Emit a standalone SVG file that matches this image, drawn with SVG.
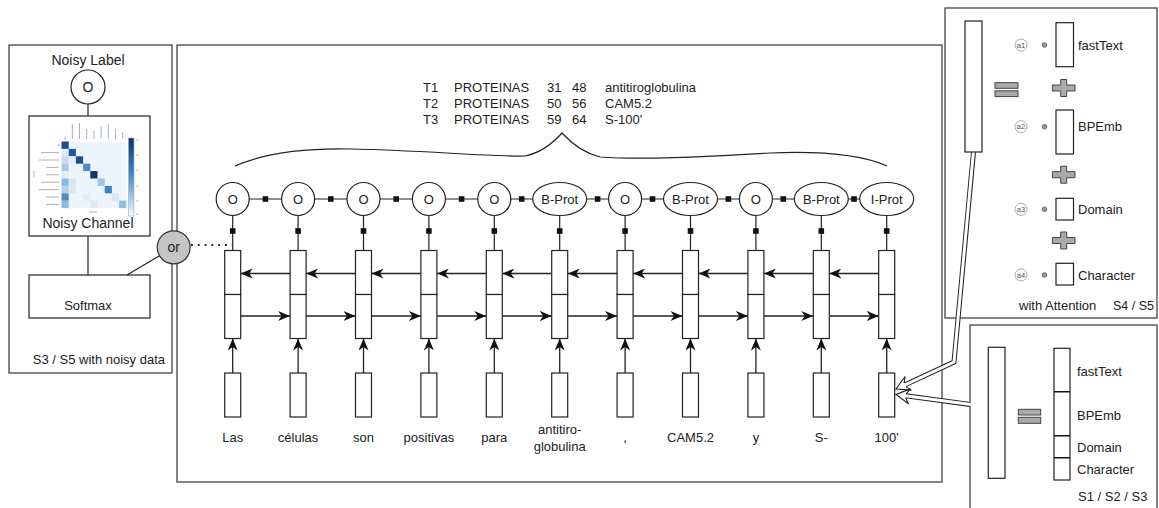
<svg xmlns="http://www.w3.org/2000/svg" width="1159" height="508" viewBox="0 0 1159 508">
<defs>
<style>
text { font-family: "Liberation Sans", Arial, sans-serif; fill: #222; font-size: 13px; }
.mid { text-anchor: middle; }
.big { font-size: 14px; }
.frame { fill: #fff; stroke: #444; stroke-width: 1.3; }
.box { fill: #fff; stroke: #222; stroke-width: 1.2; }
.ln { stroke: #222; stroke-width: 1.2; fill: none; }
.arr { stroke: #222; stroke-width: 1.3; fill: none; marker-end: url(#ah); }
.sq { fill: #111; }
.grey { fill: #aaa; stroke: #444; stroke-width: 1; }
.lab { stroke: #aab2bb; stroke-width: 1; fill: none; }
.acirc { fill: #fff; stroke: #aaa; stroke-width: 1; }
.atext { font-size: 7.5px; fill: #555; text-anchor: middle; }
.dot { fill: #999; stroke: #555; stroke-width: 0.8; }
.dblo { stroke: #222; stroke-width: 5; fill: none; stroke-linejoin: miter; }
.dbli { stroke: #fff; stroke-width: 3; fill: none; stroke-linejoin: miter; }
.head { fill: #fff; stroke: #222; stroke-width: 1.1; stroke-linejoin: miter; }
</style>
<marker id="ah" viewBox="0 0 12 10" refX="12" refY="5" markerWidth="12" markerHeight="10" markerUnits="userSpaceOnUse" orient="auto">
<path d="M0,0 L12,5 L0,10 L3.5,5 Z" fill="#111"/>
</marker>
<linearGradient id="cb" x1="0" y1="0" x2="0" y2="1">
<stop offset="0" stop-color="#08306b"/>
<stop offset="0.5" stop-color="#4a90c8"/>
<stop offset="1" stop-color="#f7fbff"/>
</linearGradient>
<path id="plus" d="M -3 -8.5 H 3 V -3 H 11.3 V 3 H 3 V 8.5 H -3 V 3 H -11.3 V -3 H -3 Z"/>
</defs>
<rect x="0" y="0" width="1159" height="508" fill="#fff"/>

<!-- Frames -->
<g id="panel-noisy"><rect class="frame" x="9" y="45" width="163" height="328"/></g>
<g id="panel-main"><rect class="frame" x="177" y="45" width="765" height="437"/></g>
<g id="panel-attention"><rect class="frame" x="945" y="8" width="212" height="310"/></g>
<g id="panel-concat"><rect class="frame" x="970" y="325" width="187" height="195"/></g>

<!-- Left panel contents -->
<g id="noisy-label">
<text class="big mid" x="88" y="65">Noisy Label</text>
<circle class="box" cx="88" cy="87" r="17"/>
<text class="big mid" x="88" y="92">O</text>
</g>
<g id="noisy-channel">
<rect class="box" x="29" y="116" width="121" height="120"/>
<rect x="61.5" y="141.5" width="64.8" height="66.6" fill="#eef4fb"/>
<g>
<rect x="61.5" y="141.5" width="7.2" height="7.4" fill="#1c4f8f"/>
<rect x="61.5" y="148.9" width="7.2" height="7.4" fill="#dde9f5"/>
<rect x="68.7" y="148.9" width="7.2" height="7.4" fill="#1f5a9e"/>
<rect x="61.5" y="156.3" width="7.2" height="7.4" fill="#c9dcef"/>
<rect x="68.7" y="156.3" width="7.2" height="7.4" fill="#e3edf8"/>
<rect x="75.9" y="156.3" width="7.2" height="7.4" fill="#1a4f91"/>
<rect x="61.5" y="163.7" width="7.2" height="7.4" fill="#a9c9e6"/>
<rect x="83.1" y="163.7" width="7.2" height="7.4" fill="#4a8cc6"/>
<rect x="61.5" y="171.1" width="7.2" height="7.4" fill="#e0ebf6"/>
<rect x="90.3" y="171.1" width="7.2" height="7.4" fill="#0d3570"/>
<rect x="61.5" y="178.5" width="7.2" height="7.4" fill="#8dbadf"/>
<rect x="68.7" y="178.5" width="7.2" height="7.4" fill="#d4e4f3"/>
<rect x="97.5" y="178.5" width="7.2" height="7.4" fill="#9dc4e4"/>
<rect x="61.5" y="185.9" width="7.2" height="7.4" fill="#b3cfe9"/>
<rect x="68.7" y="185.9" width="7.2" height="7.4" fill="#dce8f5"/>
<rect x="104.7" y="185.9" width="7.2" height="7.4" fill="#3f82c0"/>
<rect x="61.5" y="193.3" width="7.2" height="7.4" fill="#4f8ec7"/>
<rect x="83.1" y="193.3" width="7.2" height="7.4" fill="#e2ecf7"/>
<rect x="111.9" y="193.3" width="7.2" height="7.4" fill="#d6e6f4"/>
<rect x="61.5" y="200.7" width="7.2" height="7.4" fill="#8ebbe0"/>
<rect x="90.3" y="200.7" width="7.2" height="7.4" fill="#dfeaf6"/>
<rect x="119.1" y="200.7" width="7.2" height="7.4" fill="#90bee1"/>
</g>
<rect x="128.5" y="138" width="5.5" height="78" fill="url(#cb)" stroke="#aab" stroke-width="0.6"/>
<path class="lab" d="M65.1 137 V140 M72.3 124 V139 M79.5 123 V139 M86.7 129 V139 M93.9 131 V139 M101.1 126 V139 M108.3 124 V139 M115.5 129 V139 M122.7 132 V139"/>
<path class="lab" d="M57 145.2 H60 M41 152.6 H59 M39 160 H59 M46 167.4 H59 M46 174.8 H59 M41 182.2 H59 M39 189.6 H59 M46 197 H59 M46 204.4 H59 M34 171 V177 M89 212 H97 M136 140 H138.5 M136 155 H138.5 M136 170 H138.5 M136 186 H138.5 M136 201 H138.5 M136 214 H138.5"/>
<text class="big mid" x="88" y="228">Noisy Channel</text>
</g>
<g id="softmax">
<rect class="box" x="29" y="275" width="121" height="43"/>
<text class="mid" x="88" y="310">Softmax</text>
</g>
<text x="165" y="364" text-anchor="end">S3 / S5 with noisy data</text>

<!-- Header annotations -->
<g id="annotations">
<text><tspan x="423" y="92">T1</tspan><tspan x="454">PROTEINAS</tspan><tspan x="547">31</tspan><tspan x="572">48</tspan><tspan x="605">antitiroglobulina</tspan></text>
<text><tspan x="423" y="108">T2</tspan><tspan x="454">PROTEINAS</tspan><tspan x="547">50</tspan><tspan x="572">56</tspan><tspan x="605">CAM5.2</tspan></text>
<text><tspan x="423" y="124">T3</tspan><tspan x="454">PROTEINAS</tspan><tspan x="547">59</tspan><tspan x="572">64</tspan><tspan x="605">S-100'</tspan></text>
</g>
<g id="brace">
<path class="ln" d="M 235 166 C 262 154, 300 148, 350 149 C 420 150, 490 157, 525 156 C 540 153, 553 143, 562 133 C 571 143, 584 153, 600 157 C 640 160, 700 157, 770 153 C 820 151, 860 154, 887 166"/>
</g>

<!-- Connectors -->
<g id="connectors">
<path class="ln" d="M88 104 V116 M88 236 V275 M127 275 L159.5 255.7"/>
<path d="M191 245 H232" stroke="#222" stroke-width="1.8" stroke-dasharray="1.8 5" fill="none"/>
<path class="ln" d="M232.7 199 H886.7"/>
<path class="ln" d="M232.7 215.5 V250.5 M298.1 215.5 V250.5 M363.5 215.5 V250.5 M428.9 215.5 V250.5 M494.3 215.5 V250.5 M559.7 215.5 V250.5 M625.1 215.5 V250.5 M690.5 215.5 V250.5 M755.9 215.5 V250.5 M821.3 215.5 V250.5 M886.7 215.5 V250.5"/>
<g>
<rect class="sq" x="262.6" y="196.2" width="5.6" height="5.6"/>
<rect class="sq" x="328" y="196.2" width="5.6" height="5.6"/>
<rect class="sq" x="393.4" y="196.2" width="5.6" height="5.6"/>
<rect class="sq" x="458.8" y="196.2" width="5.6" height="5.6"/>
<rect class="sq" x="518.9" y="196.2" width="5.6" height="5.6"/>
<rect class="sq" x="594.8" y="196.2" width="5.6" height="5.6"/>
<rect class="sq" x="649.7" y="196.2" width="5.6" height="5.6"/>
<rect class="sq" x="725.6" y="196.2" width="5.6" height="5.6"/>
<rect class="sq" x="780.5" y="196.2" width="5.6" height="5.6"/>
<rect class="sq" x="851.2" y="196.2" width="5.6" height="5.6"/>
<rect class="sq" x="229.9" y="228.2" width="5.6" height="5.6"/>
<rect class="sq" x="295.3" y="228.2" width="5.6" height="5.6"/>
<rect class="sq" x="360.7" y="228.2" width="5.6" height="5.6"/>
<rect class="sq" x="426.1" y="228.2" width="5.6" height="5.6"/>
<rect class="sq" x="491.5" y="228.2" width="5.6" height="5.6"/>
<rect class="sq" x="556.9" y="228.2" width="5.6" height="5.6"/>
<rect class="sq" x="622.3" y="228.2" width="5.6" height="5.6"/>
<rect class="sq" x="687.7" y="228.2" width="5.6" height="5.6"/>
<rect class="sq" x="753.1" y="228.2" width="5.6" height="5.6"/>
<rect class="sq" x="818.5" y="228.2" width="5.6" height="5.6"/>
<rect class="sq" x="883.9" y="228.2" width="5.6" height="5.6"/>
</g>
<path class="arr" d="M290.1 273.5 H240.7"/>
<path class="arr" d="M355.5 273.5 H306.1"/>
<path class="arr" d="M420.9 273.5 H371.5"/>
<path class="arr" d="M486.3 273.5 H436.9"/>
<path class="arr" d="M551.7 273.5 H502.3"/>
<path class="arr" d="M617.1 273.5 H567.7"/>
<path class="arr" d="M682.5 273.5 H633.1"/>
<path class="arr" d="M747.9 273.5 H698.5"/>
<path class="arr" d="M813.3 273.5 H763.9"/>
<path class="arr" d="M878.7 273.5 H829.3"/>
<path class="arr" d="M240.7 316 H290.1"/>
<path class="arr" d="M306.1 316 H355.5"/>
<path class="arr" d="M371.5 316 H420.9"/>
<path class="arr" d="M436.9 316 H486.3"/>
<path class="arr" d="M502.3 316 H551.7"/>
<path class="arr" d="M567.7 316 H617.1"/>
<path class="arr" d="M633.1 316 H682.5"/>
<path class="arr" d="M698.5 316 H747.9"/>
<path class="arr" d="M763.9 316 H813.3"/>
<path class="arr" d="M829.3 316 H878.7"/>
<path class="arr" d="M232.7 373 V338.5"/>
<path class="arr" d="M298.1 373 V338.5"/>
<path class="arr" d="M363.5 373 V338.5"/>
<path class="arr" d="M428.9 373 V338.5"/>
<path class="arr" d="M494.3 373 V338.5"/>
<path class="arr" d="M559.7 373 V338.5"/>
<path class="arr" d="M625.1 373 V338.5"/>
<path class="arr" d="M690.5 373 V338.5"/>
<path class="arr" d="M755.9 373 V338.5"/>
<path class="arr" d="M821.3 373 V338.5"/>
<path class="arr" d="M886.7 373 V338.5"/>
<path class="dblo" d="M973.5 152 L954 362 L905.1 384.8"/>
<path class="dbli" d="M973.5 151 L954 362 L904.5 385.1"/>
<path class="head" transform="translate(896,389) rotate(155.03)" d="M -10 -2 L -13.5 -7.5 L 0 0 L -13.5 7.5 L -10 2"/>
<path class="dblo" d="M970 404.5 L905.9 395.84"/>
<path class="dbli" d="M971 404.6 L905.3 395.76"/>
<path class="head" transform="translate(896,394.5) rotate(187.7)" d="M -10 -2 L -13.5 -7.5 L 0 0 L -13.5 7.5 L -10 2"/>
</g>

<!-- "or" node -->
<g id="or-node">
<circle cx="173.7" cy="247.3" r="16.5" fill="#c4c4c4" stroke="#333" stroke-width="1.2"/>
<text class="big mid" x="173.7" y="252">or</text>
</g>

<!-- Tag nodes -->
<g id="tag-1"><circle class="box" cx="232.7" cy="199" r="16.5"/><text class="mid" x="232.7" y="203.6">O</text></g>
<g id="tag-2"><circle class="box" cx="298.1" cy="199" r="16.5"/><text class="mid" x="298.1" y="203.6">O</text></g>
<g id="tag-3"><circle class="box" cx="363.5" cy="199" r="16.5"/><text class="mid" x="363.5" y="203.6">O</text></g>
<g id="tag-4"><circle class="box" cx="428.9" cy="199" r="16.5"/><text class="mid" x="428.9" y="203.6">O</text></g>
<g id="tag-5"><circle class="box" cx="494.3" cy="199" r="16.5"/><text class="mid" x="494.3" y="203.6">O</text></g>
<g id="tag-6"><ellipse class="box" cx="559.7" cy="199" rx="27" ry="16.5"/><text class="mid" x="559.7" y="203.6">B-Prot</text></g>
<g id="tag-7"><circle class="box" cx="625.1" cy="199" r="16.5"/><text class="mid" x="625.1" y="203.6">O</text></g>
<g id="tag-8"><ellipse class="box" cx="690.5" cy="199" rx="27" ry="16.5"/><text class="mid" x="690.5" y="203.6">B-Prot</text></g>
<g id="tag-9"><circle class="box" cx="755.9" cy="199" r="16.5"/><text class="mid" x="755.9" y="203.6">O</text></g>
<g id="tag-10"><ellipse class="box" cx="821.3" cy="199" rx="27" ry="16.5"/><text class="mid" x="821.3" y="203.6">B-Prot</text></g>
<g id="tag-11"><ellipse class="box" cx="886.7" cy="199" rx="27" ry="16.5"/><text class="mid" x="886.7" y="203.6">I-Prot</text></g>

<!-- BiLSTM cells -->
<g id="lstm-1"><rect class="box" x="224.7" y="250.5" width="16" height="44"/><rect class="box" x="224.7" y="294.5" width="16" height="44"/></g>
<g id="lstm-2"><rect class="box" x="290.1" y="250.5" width="16" height="44"/><rect class="box" x="290.1" y="294.5" width="16" height="44"/></g>
<g id="lstm-3"><rect class="box" x="355.5" y="250.5" width="16" height="44"/><rect class="box" x="355.5" y="294.5" width="16" height="44"/></g>
<g id="lstm-4"><rect class="box" x="420.9" y="250.5" width="16" height="44"/><rect class="box" x="420.9" y="294.5" width="16" height="44"/></g>
<g id="lstm-5"><rect class="box" x="486.3" y="250.5" width="16" height="44"/><rect class="box" x="486.3" y="294.5" width="16" height="44"/></g>
<g id="lstm-6"><rect class="box" x="551.7" y="250.5" width="16" height="44"/><rect class="box" x="551.7" y="294.5" width="16" height="44"/></g>
<g id="lstm-7"><rect class="box" x="617.1" y="250.5" width="16" height="44"/><rect class="box" x="617.1" y="294.5" width="16" height="44"/></g>
<g id="lstm-8"><rect class="box" x="682.5" y="250.5" width="16" height="44"/><rect class="box" x="682.5" y="294.5" width="16" height="44"/></g>
<g id="lstm-9"><rect class="box" x="747.9" y="250.5" width="16" height="44"/><rect class="box" x="747.9" y="294.5" width="16" height="44"/></g>
<g id="lstm-10"><rect class="box" x="813.3" y="250.5" width="16" height="44"/><rect class="box" x="813.3" y="294.5" width="16" height="44"/></g>
<g id="lstm-11"><rect class="box" x="878.7" y="250.5" width="16" height="44"/><rect class="box" x="878.7" y="294.5" width="16" height="44"/></g>

<!-- Embeddings and words -->
<g id="emb-1"><rect class="box" x="224.7" y="373" width="16" height="44"/><text class="mid" x="232.7" y="441.5">Las</text></g>
<g id="emb-2"><rect class="box" x="290.1" y="373" width="16" height="44"/><text class="mid" x="298.1" y="441.5">células</text></g>
<g id="emb-3"><rect class="box" x="355.5" y="373" width="16" height="44"/><text class="mid" x="363.5" y="441.5">son</text></g>
<g id="emb-4"><rect class="box" x="420.9" y="373" width="16" height="44"/><text class="mid" x="428.9" y="441.5">positivas</text></g>
<g id="emb-5"><rect class="box" x="486.3" y="373" width="16" height="44"/><text class="mid" x="494.3" y="441.5">para</text></g>
<g id="emb-6"><rect class="box" x="551.7" y="373" width="16" height="44"/><text class="mid" x="559.7" y="434">antitiro-</text><text class="mid" x="559.7" y="450.5">globulina</text></g>
<g id="emb-7"><rect class="box" x="617.1" y="373" width="16" height="44"/><text class="mid" x="625.1" y="441.5">,</text></g>
<g id="emb-8"><rect class="box" x="682.5" y="373" width="16" height="44"/><text class="mid" x="690.5" y="441.5">CAM5.2</text></g>
<g id="emb-9"><rect class="box" x="747.9" y="373" width="16" height="44"/><text class="mid" x="755.9" y="441.5">y</text></g>
<g id="emb-10"><rect class="box" x="813.3" y="373" width="16" height="44"/><text class="mid" x="821.3" y="441.5">S-</text></g>
<g id="emb-11"><rect class="box" x="878.7" y="373" width="16" height="44"/><text class="mid" x="886.7" y="441.5">100'</text></g>

<!-- Attention panel -->
<g id="att-vector"><rect class="box" x="965" y="21" width="17" height="131"/></g>
<g id="att-equals"><rect class="grey" x="995" y="82.7" width="23" height="5.6"/><rect class="grey" x="995" y="90.8" width="23" height="5.8"/></g>
<g id="att-fasttext">
<circle class="acirc" cx="1021" cy="45" r="6"/><text class="atext" x="1021" y="47.7">a1</text>
<circle class="dot" cx="1044.5" cy="45" r="2.3"/>
<rect class="box" x="1056" y="22.7" width="17.5" height="44"/>
<text x="1078" y="49.5">fastText</text>
</g>
<use href="#plus" class="grey" x="1063.7" y="88"/>
<g id="att-bpemb">
<circle class="acirc" cx="1021" cy="126.7" r="6"/><text class="atext" x="1021" y="129.4">a2</text>
<circle class="dot" cx="1044.5" cy="126.7" r="2.3"/>
<rect class="box" x="1056" y="110" width="17.5" height="44"/>
<text x="1078" y="131.2">BPEmb</text>
</g>
<use href="#plus" class="grey" x="1063.7" y="174.7"/>
<g id="att-domain">
<circle class="acirc" cx="1021" cy="209.3" r="6"/><text class="atext" x="1021" y="212">a3</text>
<circle class="dot" cx="1044.5" cy="209.3" r="2.3"/>
<rect class="box" x="1056" y="198.3" width="17.5" height="21.7"/>
<text x="1078" y="213.8">Domain</text>
</g>
<use href="#plus" class="grey" x="1063.7" y="240.5"/>
<g id="att-character">
<circle class="acirc" cx="1021" cy="275" r="6"/><text class="atext" x="1021" y="277.7">a4</text>
<circle class="dot" cx="1044.5" cy="275" r="2.3"/>
<rect class="box" x="1056" y="263.3" width="17.5" height="21.7"/>
<text x="1078" y="279.5">Character</text>
</g>
<text x="1019" y="309.5">with Attention</text>
<text x="1154" y="309.5" text-anchor="end" style="font-size:12.5px">S4 / S5</text>

<!-- Concatenation panel -->
<g id="cat-vector"><rect class="box" x="988.3" y="347.3" width="16.7" height="131"/></g>
<g id="cat-equals"><rect class="grey" x="1018.3" y="409.3" width="22.4" height="5.7"/><rect class="grey" x="1018.3" y="417.3" width="22.4" height="6"/></g>
<g id="cat-stack">
<rect class="box" x="1054" y="348.3" width="16" height="131.7"/>
<path d="M1054 391.7 H1070 M1054 435.7 H1070 M1054 457.7 H1070" stroke="#111" stroke-width="1.6"/>
<text x="1077" y="376">fastText</text>
<text x="1077" y="419.5">BPEmb</text>
<text x="1077" y="452">Domain</text>
<text x="1077" y="474">Character</text>
</g>
<text x="1078" y="501">S1 / S2 / S3</text>
</svg>
